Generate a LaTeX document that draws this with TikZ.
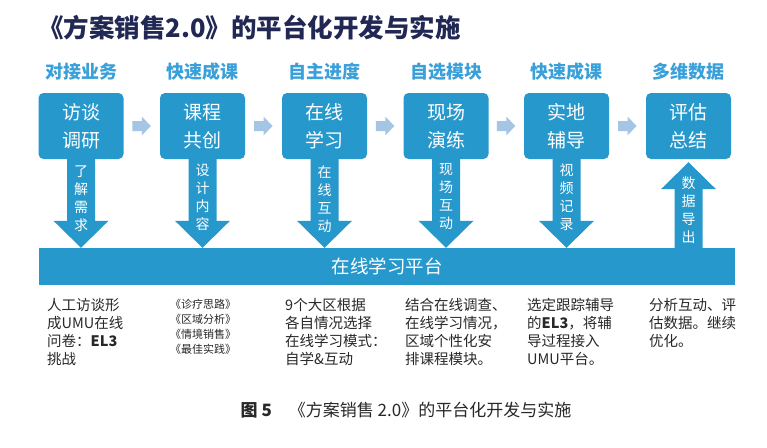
\documentclass[tikz,border=0pt]{standalone}
\usepackage{fontspec}
\setmainfont{Noto Sans CJK SC}
\usepackage{xcolor}
\usepackage{tikz}
\usetikzlibrary{positioning,calc}

\definecolor{umublue}{RGB}{38,152,204}
\definecolor{umulight}{RGB}{164,198,228}
\definecolor{umuhead}{RGB}{58,160,218}
\definecolor{umunavy}{RGB}{34,40,84}
\definecolor{umutext}{RGB}{40,40,40}

\begin{document}
\begin{tikzpicture}[
  x=1pt, y=-1pt,
  stepbox/.style={fill=umublue, rounded corners=5pt, minimum width=85pt, minimum height=66pt,
    inner sep=0pt, align=center, text=white, font=\fontsize{19}{28}\selectfont},
  head/.style={text=umuhead, font=\bfseries\fontsize{18}{20}\selectfont},
  vtext/.style={text=white, align=center, inner sep=0pt, font=\fontsize{14}{18}\selectfont},
  note/.style={anchor=north west, inner sep=0pt, align=left, text=umutext,
    font=\fontsize{14.5}{18}\selectfont},
  small/.style={note, font=\fontsize{11}{15}\selectfont}]
  \fill[white] (0,0) rectangle (767,447);
  \useasboundingbox (0,0) rectangle (767,447);
  \node[anchor=west, inner sep=0pt, text=umunavy, font=\bfseries\fontsize{25.5}{28}\selectfont]
    (title) at (38,28) {《方案销售2.0》的平台化开发与实施};
  % the six steps
  \node[stepbox] (b1) at (81,126) {访谈\\调研};
  \node[stepbox] (b2) at (202.5,126) {课程\\共创};
  \node[stepbox] (b3) at (324.5,126) {在线\\学习};
  \node[stepbox] (b4) at (446,126) {现场\\演练};
  \node[stepbox] (b5) at (566.5,126) {实地\\辅导};
  \node[stepbox] (b6) at (688.5,126) {评估\\总结};
  \node[head] (h1) at ($(b1.north)+(0,-21)$) {对接业务};
  \node[head] (h2) at ($(b2.north)+(0,-21)$) {快速成课};
  \node[head] (h3) at ($(b3.north)+(0,-21)$) {自主进度};
  \node[head] (h4) at ($(b4.north)+(0,-21)$) {自选模块};
  \node[head] (h5) at ($(b5.north)+(0,-21)$) {快速成课};
  \node[head] (h6) at ($(b6.north)+(0,-21)$) {多维数据};
  % platform bar
  \node[fill=umublue, minimum width=696pt, minimum height=37pt, inner sep=0pt, text=white,
    font=\fontsize{18.5}{20}\selectfont] (bar) at (387,266.5) {在线学习平台};
  % small arrows between steps
  \foreach \a/\c in {b1/b2,b2/b3,b3/b4,b4/b5,b5/b6}{
    \coordinate (m) at ($(\a.east)!0.5!(\c.west)$);
    \fill[umulight] ($(m)+(-9.5,-5)$) -- ($(m)+(0,-5)$) -- ($(m)+(0,-9.5)$) -- ($(m)+(9,0)$)
      -- ($(m)+(0,9.5)$) -- ($(m)+(0,5)$) -- ($(m)+(-9.5,5)$) -- cycle;
  }
  % block arrows down to the platform
  \foreach \b in {b1,b2,b3,b4,b5}{
    \fill[umublue] ($(\b.south)+(-14,0)$) -- ($(\b.south)+(14,0)$)
      -- ($(\b.south |- bar.north)+(14,-27)$) -- ($(\b.south |- bar.north)+(27.5,-27)$)
      -- (\b.south |- bar.north) -- ($(\b.south |- bar.north)+(-27.5,-27)$)
      -- ($(\b.south |- bar.north)+(-14,-27)$) -- cycle;
  }
  % and one back up
  \fill[umublue] ($(b6.south |- bar.north)+(-14,0)$) -- ($(b6.south |- bar.north)+(14,0)$)
    -- ($(b6.south)+(14,30)$) -- ($(b6.south)+(27.5,30)$) -- ($(b6.south)+(0,3)$)
    -- ($(b6.south)+(-27.5,30)$) -- ($(b6.south)+(-14,30)$) -- cycle;
  \node[vtext] (v1) at ($(b1.south)+(0,39.5)$) {了\\解\\需\\求};
  \node[vtext] (v2) at ($(b2.south)+(0,38.5)$) {设\\计\\内\\容};
  \node[vtext] (v3) at ($(b3.south)+(0,40)$) {在\\线\\互\\动};
  \node[vtext] (v4) at ($(b4.south)+(0,37.5)$) {现\\场\\互\\动};
  \node[vtext] (v5) at ($(b5.south)+(0,38.5)$) {视\\频\\记\\录};
  \node[vtext] (v6) at ($(b6.south)+(0,51)$) {数\\据\\导\\出};
  % notes under the platform
  \node[note] (n1) at (47,298) {人工访谈形\\成UMU在线\\问卷：\textbf{EL3}\\挑战};
  \node[small] (n2) at (170,299) {《诊疗思路》\\《区域分析》\\《情境销售》\\《最佳实践》};
  \node[note] (n3) at (285,298) {9个大区根据\\各自情况选择\\在线学习模式：\\自学\&互动};
  \node[note] (n4) at (405,298) {结合在线调查、\\在线学习情况，\\区域个性化安\\排课程模块。};
  \node[note] (n5) at (527,298) {选定跟踪辅导\\的\textbf{EL3}，将辅\\导过程接入\\UMU平台。};
  \node[note] (n6) at (649,298) {分析互动、评\\估数据。继续\\优化。};
  \node[text=umutext, font=\fontsize{17}{20}\selectfont] (cap) at (406,410)
    {\textbf{图 5}\quad《方案销售 2.0》的平台化开发与实施};
\end{tikzpicture}
\end{document}
